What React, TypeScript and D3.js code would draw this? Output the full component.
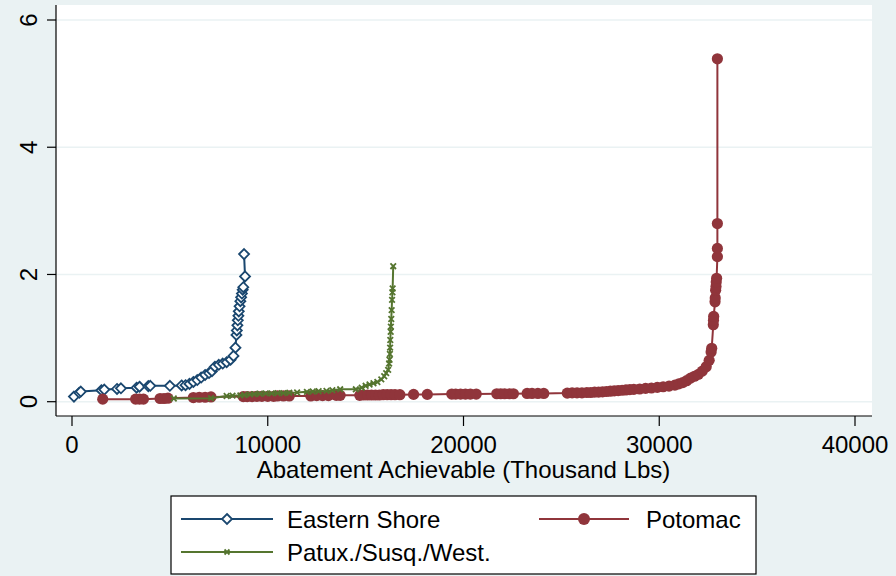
import React from "react";
import * as d3 from "d3";

const seriesNames = ["Eastern Shore", "Potomac", "Patux./Susq./West."];

const easternX = [100, 370, 450, 1500, 1650, 2300, 2500, 3300, 3450, 3900, 4000, 5000, 5600, 5800, 6000, 6200, 6400, 6600, 6800, 7000, 7150, 7300, 7500, 7700, 7900, 8100, 8250, 8350, 8400, 8420, 8450, 8470, 8500, 8520, 8560, 8600, 8640, 8680, 8720, 8750, 8840, 8790];
const easternY = [0.08, 0.14, 0.16, 0.18, 0.19, 0.2, 0.21, 0.22, 0.235, 0.245, 0.25, 0.25, 0.255, 0.26, 0.28, 0.31, 0.34, 0.38, 0.42, 0.45, 0.48, 0.55, 0.58, 0.6, 0.62, 0.66, 0.72, 0.85, 1.05, 1.12, 1.2, 1.28, 1.35, 1.42, 1.5, 1.58, 1.64, 1.7, 1.76, 1.8, 1.97, 2.32];

const potomacX = [1570, 3250, 3450, 3650, 4500, 4700, 4900, 6200, 6500, 6800, 7100, 8750, 8950, 9200, 9450, 9700, 10000, 10300, 10500, 10800, 11100, 12200, 12500, 12800, 13100, 13500, 13700, 14700, 14900, 15100, 15300, 15500, 15700, 15900, 16100, 16300, 16500, 16750, 17450, 18150, 19400, 19600, 19850, 20100, 20350, 20650, 21700, 21900, 22100, 22350, 22550, 23250, 23500, 23800, 24100, 25300, 25550, 25800, 26050, 26300, 26500, 26700, 26900, 27100, 27300, 27500, 27700, 27900, 28100, 28300, 28500, 28700, 29000, 29300, 29600, 29900, 30200, 30500, 30800, 31000, 31200, 31400, 31600, 31800, 32000, 32200, 32400, 32550, 32650, 32680, 32760, 32770, 32780, 32850, 32860, 32880, 32900, 32910, 32930, 32970, 32970, 32970, 32970];
const potomacY = [0.04, 0.04, 0.04, 0.04, 0.05, 0.05, 0.055, 0.065, 0.07, 0.07, 0.075, 0.08, 0.08, 0.08, 0.085, 0.085, 0.085, 0.085, 0.09, 0.09, 0.09, 0.09, 0.095, 0.095, 0.095, 0.1, 0.1, 0.1, 0.105, 0.105, 0.105, 0.105, 0.105, 0.11, 0.11, 0.11, 0.11, 0.11, 0.115, 0.115, 0.12, 0.12, 0.12, 0.12, 0.12, 0.12, 0.125, 0.125, 0.125, 0.125, 0.125, 0.13, 0.13, 0.13, 0.13, 0.135, 0.14, 0.14, 0.14, 0.145, 0.145, 0.15, 0.15, 0.155, 0.16, 0.165, 0.17, 0.175, 0.18, 0.185, 0.19, 0.195, 0.2, 0.21, 0.215, 0.225, 0.235, 0.245, 0.26, 0.28, 0.3, 0.33, 0.37, 0.4, 0.43, 0.48, 0.55, 0.65, 0.78, 0.84, 1.21, 1.28, 1.34, 1.57, 1.63, 1.75, 1.81, 1.88, 1.94, 2.28, 2.41, 2.8, 5.39];

const patuxX = [5200, 7100, 7900, 8200, 8600, 8800, 9100, 9300, 9600, 9900, 10200, 10500, 10800, 11100, 11500, 12000, 12300, 12600, 13000, 13300, 13700, 14500, 14800, 15000, 15200, 15400, 15600, 15800, 15950, 16050, 16150, 16200, 16220, 16240, 16250, 16260, 16280, 16290, 16310, 16330, 16350, 16370, 16380, 16410];
const patuxY = [0.05, 0.055, 0.09, 0.095, 0.1, 0.105, 0.115, 0.12, 0.125, 0.13, 0.13, 0.135, 0.135, 0.14, 0.145, 0.155, 0.16, 0.165, 0.17, 0.18, 0.195, 0.195, 0.22, 0.25, 0.27, 0.29, 0.31, 0.35, 0.4, 0.45, 0.5, 0.6, 0.66, 0.75, 0.85, 0.97, 1.1, 1.18, 1.3, 1.44, 1.6, 1.72, 1.78, 2.13];

const xTicks = [0, 10000, 20000, 30000, 40000];
const yTicks = [0, 2, 4, 6];
const xTitle = "Abatement Achievable (Thousand Lbs)";

const BG = "#EAF2F3";
const NAVY = "#1A476F";
const MAROON = "#90353B";
const GREEN = "#55752F";
const FONT = "'Liberation Sans', Arial, Helvetica, sans-serif";

function diamond(cx: number, cy: number, r: number) {
  return `M${cx},${cy - r}L${cx + r},${cy}L${cx},${cy + r}L${cx - r},${cy}Z`;
}
function cross(cx: number, cy: number, r: number) {
  return `M${cx - r},${cy - r}L${cx + r},${cy + r}M${cx - r},${cy + r}L${cx + r},${cy - r}`;
}

export default function App() {
  const W = 896, H = 576;
  const plotL = 56, plotR = 872, plotT = 5, plotB = 416;
  const x = d3.scaleLinear().domain([0, 40000]).range([72, 855]);
  const y = d3.scaleLinear().domain([0, 6]).range([401.7, 20]);
  const line = d3.line<[number, number]>().x(d => x(d[0])).y(d => y(d[1]));

  const es: [number, number][] = easternX.map((v, i) => [v, easternY[i]]);
  const po: [number, number][] = potomacX.map((v, i) => [v, potomacY[i]]);
  const pa: [number, number][] = patuxX.map((v, i) => [v, patuxY[i]]);

  return (
    <svg width={W} height={H} style={{ position: "absolute", left: 0, top: 0 }} fontFamily={FONT}>
      <rect x={0} y={0} width={W} height={H} fill={BG} />
      <rect x={plotL} y={plotT} width={plotR - plotL} height={plotB - plotT} fill="#fff" />
      {yTicks.map(t => (
        <line key={"g" + t} x1={plotL} x2={plotR} y1={y(t)} y2={y(t)} stroke={BG} strokeWidth={1.6} />
      ))}
      <line x1={plotL} x2={plotL} y1={plotT} y2={plotB} stroke="#000" strokeWidth={1.2} />
      <line x1={plotL} x2={plotR} y1={plotB} y2={plotB} stroke="#000" strokeWidth={1.2} />
      {yTicks.map(t => (
        <g key={"y" + t}>
          <line x1={plotL - 9} x2={plotL} y1={y(t)} y2={y(t)} stroke="#000" strokeWidth={1.2} />
          <text transform={`translate(37,${y(t)}) rotate(-90)`} textAnchor="middle" fontSize={24} fill="#000">{t}</text>
        </g>
      ))}
      {xTicks.map(t => (
        <g key={"x" + t}>
          <line x1={x(t)} x2={x(t)} y1={plotB} y2={plotB + 10} stroke="#000" strokeWidth={1.2} />
          <text x={x(t)} y={453} textAnchor="middle" fontSize={24} fill="#000">{t}</text>
        </g>
      ))}
      <text x={(x(0) + x(40000)) / 2} y={478} textAnchor="middle" fontSize={24} fill="#000">{xTitle}</text>

      <path d={line(es) || ""} fill="none" stroke={NAVY} strokeWidth={2} />
      {es.map((d, i) => (
        <path key={"es" + i} d={diamond(x(d[0]), y(d[1]), 5)} fill="#fff" stroke={NAVY} strokeWidth={1.8} />
      ))}
      <path d={line(po) || ""} fill="none" stroke={MAROON} strokeWidth={2} />
      {po.map((d, i) => (
        <circle key={"po" + i} cx={x(d[0])} cy={y(d[1])} r={5.6} fill={MAROON} />
      ))}
      <path d={line(pa) || ""} fill="none" stroke={GREEN} strokeWidth={2} />
      {pa.map((d, i) => (
        <path key={"pa" + i} d={cross(x(d[0]), y(d[1]), 2.8)} fill="none" stroke={GREEN} strokeWidth={1.8} />
      ))}

      <rect x={171} y={496} width={585} height={78} fill="#fff" stroke="#000" strokeWidth={1.2} />
      <line x1={181} x2={273} y1={519} y2={519} stroke={NAVY} strokeWidth={2} />
      <path d={diamond(227, 519, 5)} fill="#fff" stroke={NAVY} strokeWidth={1.8} />
      <text x={287} y={528} fontSize={24} fill="#000">{seriesNames[0]}</text>
      <line x1={539} x2={629} y1={519} y2={519} stroke={MAROON} strokeWidth={2} />
      <circle cx={584} cy={519} r={6} fill={MAROON} />
      <text x={646} y={528} fontSize={24} fill="#000">{seriesNames[1]}</text>
      <line x1={181} x2={273} y1={552} y2={552} stroke={GREEN} strokeWidth={2} />
      <path d={cross(227, 552, 2.5)} fill="none" stroke={GREEN} strokeWidth={1.8} />
      <text x={287} y={561} fontSize={24} fill="#000">{seriesNames[2]}</text>
    </svg>
  );
}
